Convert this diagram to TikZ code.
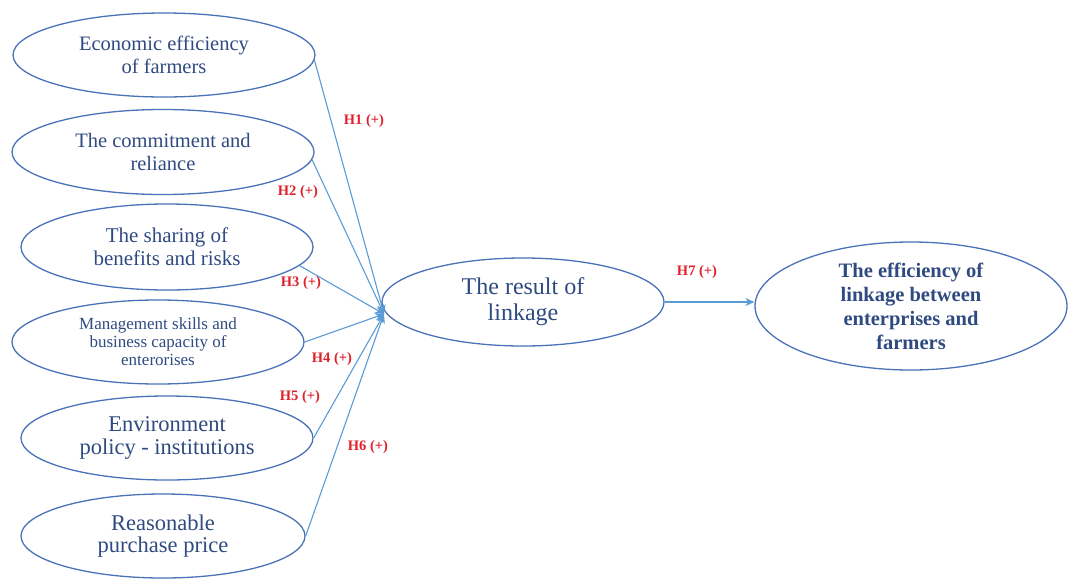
\documentclass[tikz,border=0pt]{standalone}
\usepackage{fontspec}
\setmainfont{Liberation Serif}
\usetikzlibrary{shapes.geometric,arrows.meta}
\definecolor{ebord}{HTML}{4A72B8}
\definecolor{etext}{HTML}{2F4A80}
\definecolor{arrc}{HTML}{5B9BD5}
\definecolor{hred}{HTML}{E0202A}
\tikzset{
  ell/.style={ellipse,draw=ebord,line width=1.3pt,inner sep=0pt,align=center,text=etext},
  arr/.style={draw=arrc,line width=1.1pt,-{Stealth[length=9pt,width=8pt]}},
  hlab/.style={text=hred,font=\bfseries\fontsize{14.5}{16}\selectfont}
}
\begin{document}
\begin{tikzpicture}[x=1pt,y=-1pt]
\useasboundingbox (0,0) rectangle (1070,579);
\node[ell,minimum width=302pt,minimum height=84pt,font=\fontsize{20.5}{23}\selectfont] (e1) at (164,55) {Economic efficiency\\of farmers};
\node[ell,minimum width=302pt,minimum height=85pt,font=\fontsize{20.5}{23}\selectfont] (e2) at (163,152) {The commitment and\\reliance};
\node[ell,minimum width=292pt,minimum height=86pt,font=\fontsize{21}{23}\selectfont] (e3) at (167,247) {The sharing of\\benefits and risks};
\node[ell,minimum width=292pt,minimum height=84pt,font=\fontsize{17}{18}\selectfont] (e4) at (158,342) {Management skills and\\business capacity of\\enterorises};
\node[ell,minimum width=292pt,minimum height=84pt,font=\fontsize{22.5}{23}\selectfont] (e5) at (167,438) {Environment\\policy - institutions};
\node[ell,minimum width=284pt,minimum height=84pt,font=\fontsize{22.5}{22}\selectfont] (e6) at (163,536) {Reasonable\\purchase price};
\node[ell,minimum width=282pt,minimum height=88pt,font=\fontsize{24}{26}\selectfont] (res) at (523,302) {The result of\\linkage};
\node[ell,minimum width=312pt,minimum height=128pt,font=\bfseries\fontsize{20.5}{24}\selectfont] (eff) at (911,306) {The efficiency of\\linkage between\\enterprises and\\farmers};
\coordinate (hub) at (384,314);
\draw[arr] (e1.-2) -- (hub);
\draw[arr] (e2.-3) -- (hub);
\draw[arr] (e3.-8) -- (hub);
\draw[arr] (e4.east) -- (hub);
\draw[arr] (e5.east) -- (hub);
\draw[arr] (e6.east) -- (hub);
\draw[arr] (res.east) -- (res.east -| eff.west);
\node[hlab] (h1) at (364,121) {H1 (+)};
\node[hlab] (h2) at (298,192) {H2 (+)};
\node[hlab] (h3) at (301,283) {H3 (+)};
\node[hlab] (h4) at (332,359) {H4 (+)};
\node[hlab] (h5) at (300,397) {H5 (+)};
\node[hlab] (h6) at (368,447) {H6 (+)};
\node[hlab] (h7) at (697,272) {H7 (+)};
\end{tikzpicture}
\end{document}
